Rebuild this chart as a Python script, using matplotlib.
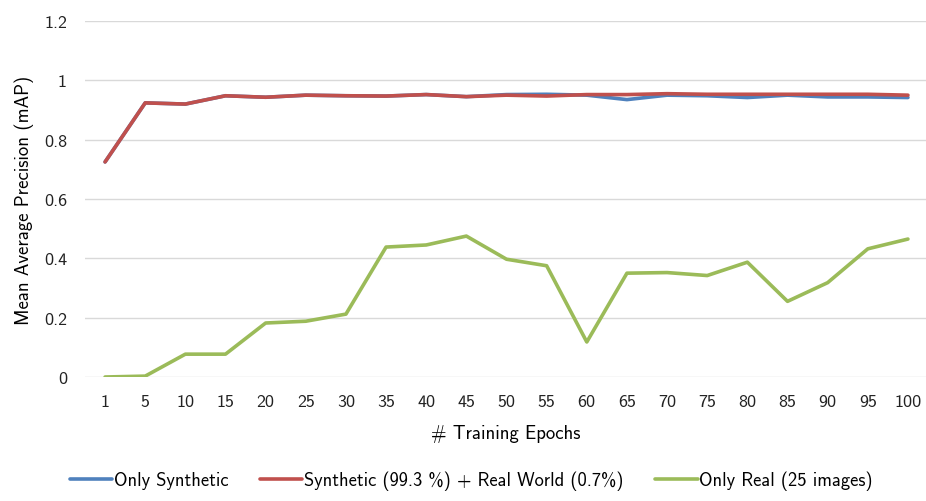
import matplotlib
matplotlib.use("Agg")
import matplotlib.pyplot as plt

epochs = ["1", "5", "10", "15", "20", "25", "30", "35", "40", "45", "50",
          "55", "60", "65", "70", "75", "80", "85", "90", "95", "100"]

only_synthetic = [0.725, 0.924, 0.920, 0.948, 0.943, 0.950, 0.948, 0.947, 0.952, 0.945, 0.952,
                  0.953, 0.950, 0.935, 0.950, 0.948, 0.942, 0.950, 0.944, 0.944, 0.942]
synth_plus_real = [0.725, 0.924, 0.920, 0.948, 0.943, 0.950, 0.948, 0.947, 0.952, 0.945, 0.950,
                   0.947, 0.952, 0.952, 0.955, 0.953, 0.953, 0.953, 0.953, 0.953, 0.950]
only_real = [0.0, 0.003, 0.077, 0.077, 0.182, 0.188, 0.212, 0.438, 0.445, 0.475, 0.397,
             0.375, 0.118, 0.350, 0.352, 0.342, 0.387, 0.255, 0.318, 0.432, 0.465]

plt.rcParams['font.family'] = ['cmss10', 'DejaVu Sans']
plt.rcParams['axes.unicode_minus'] = False

fig = plt.figure(figsize=(9.26, 5.02), dpi=100)
ax = fig.add_axes([85 / 926, 1 - 378 / 502, 1 - 85 / 926, (378 - 22) / 502])

x = list(range(len(epochs)))
ax.plot(x, only_synthetic, color='#4F81BD', lw=2.6, label='Only Synthetic', solid_capstyle='round')
ax.plot(x, synth_plus_real, color='#C0504D', lw=2.6, label='Synthetic (99.3 %) + Real World (0.7%)',
        solid_capstyle='round')
ax.plot(x, only_real, color='#9BBB59', lw=2.6, label='Only Real (25 images)', solid_capstyle='round')

ax.set_xlim(-0.5, 20.45)
ax.set_ylim(0, 1.2)
ax.set_yticks([0, 0.2, 0.4, 0.6, 0.8, 1.0, 1.2])
ax.set_yticklabels(['0', '0.2', '0.4', '0.6', '0.8', '1', '1.2'])
ax.set_xticks(x)
ax.set_xticklabels(epochs)
ax.tick_params(length=0, labelsize=13, colors='#222222')
ax.tick_params(axis='x', pad=12)
ax.tick_params(axis='y', pad=13)
ax.grid(axis='y', color='#D9D9D9', lw=1)
ax.set_axisbelow(True)
for s in ax.spines.values():
    s.set_visible(False)

ax.set_xlabel('# Training Epochs', fontsize=13.5, labelpad=11)
ax.set_ylabel('Mean Average Precision (mAP)', fontsize=13.5, labelpad=7)

fig.legend(loc='lower center', bbox_to_anchor=(0.509, -0.012), ncol=3, frameon=False,
           fontsize=13.3, handlelength=2.3, handletextpad=0.1, columnspacing=1.7)

fig.savefig('out.png', dpi=100)
